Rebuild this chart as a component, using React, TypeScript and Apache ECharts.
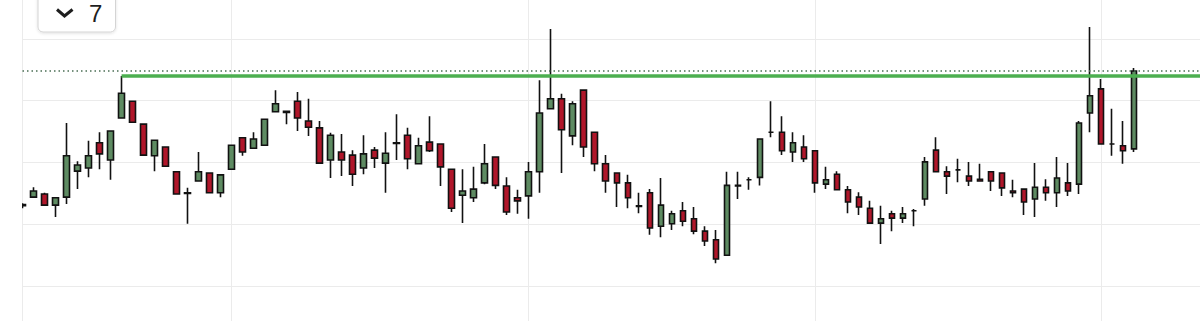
import React, { useEffect, useRef } from "react";
import * as echarts from "echarts";

// Candle values (open / close / low / high)
const OPENS = [
  113.0, 114.4, 114.9, 113.1, 114.4, 118.6, 119.1, 123.2, 120.4, 127.2,
  129.9, 126.2, 121.1, 122.5, 118.5, 115.1, 117.0, 118.3, 115.1, 118.9,
  124.0, 122.3, 122.8, 128.2, 128.3, 129.9, 126.7, 125.6, 120.4, 121.7,
  121.2, 119.1, 122.0, 119.9, 123.2, 124.4, 119.8, 123.3, 123.0, 118.9,
  114.7, 114.3, 116.7, 120.9, 116.2, 114.3, 114.6, 118.5, 128.7, 130.3,
  124.3, 131.7, 124.9, 119.8, 118.3, 116.7, 113.0, 115.1, 109.7, 110.1,
  112.2, 110.9, 108.9, 107.5, 105.0, 116.2, 117.2, 117.6, 124.9, 124.9,
  121.7, 122.5, 121.9, 116.5, 118.1, 115.6, 114.4, 112.6, 110.2, 111.7,
  111.0, 112.2, 114.1, 122.0, 118.5, 118.8, 117.8, 117.3, 118.5, 118.3,
  115.4, 115.7, 114.1, 116.0, 115.1, 116.7, 116.5, 128.0, 131.9, 123.0,
  122.7, 122.2,
];
const CLOSES = [
  113.2, 115.4, 113.1, 114.3, 121.1, 119.6, 121.1, 121.4, 125.1, 131.2,
  126.5, 121.2, 123.6, 119.4, 114.9, 115.0, 118.5, 115.1, 118.0, 122.8,
  121.7, 123.8, 127.0, 129.5, 128.1, 127.2, 125.7, 119.9, 124.4, 120.4,
  118.1, 121.4, 120.7, 121.5, 123.1, 120.6, 122.7, 121.9, 119.3, 112.6,
  115.4, 115.7, 119.8, 116.3, 112.0, 113.8, 118.5, 128.0, 130.3, 125.3,
  129.5, 122.5, 119.8, 117.0, 116.7, 114.3, 112.9, 109.4, 113.1, 111.7,
  110.5, 108.9, 107.3, 104.4, 116.3, 116.3, 117.2, 123.8, 124.9, 121.9,
  123.2, 120.6, 116.7, 117.2, 115.6, 113.6, 112.8, 110.2, 110.9, 111.0,
  111.7, 112.2, 120.1, 118.5, 117.8, 118.8, 117.0, 117.0, 117.0, 115.9,
  115.1, 113.6, 116.0, 115.1, 117.5, 115.4, 126.4, 130.8, 123.0, 123.0,
  121.9, 134.8,
];
const LOWS = [
  112.6, 114.4, 113.1, 111.2, 113.3, 115.7, 117.6, 118.9, 117.2, 127.2,
  126.5, 121.2, 118.6, 119.4, 114.9, 110.1, 117.0, 115.1, 114.4, 118.9,
  121.1, 122.3, 122.8, 128.2, 126.2, 125.1, 124.3, 119.8, 117.5, 117.8,
  116.2, 118.1, 119.1, 115.1, 120.4, 118.9, 119.8, 121.7, 116.2, 112.0,
  110.2, 113.6, 116.5, 115.7, 111.5, 111.7, 110.9, 115.1, 128.7, 118.3,
  122.8, 120.9, 118.6, 115.1, 112.8, 112.6, 111.8, 108.3, 107.9, 109.1,
  109.7, 108.4, 106.5, 103.7, 105.0, 114.1, 115.6, 116.3, 124.1, 121.2,
  120.1, 120.1, 115.1, 115.7, 115.6, 111.8, 111.5, 110.2, 106.8, 108.9,
  110.2, 109.7, 113.0, 118.5, 114.9, 116.8, 116.2, 117.0, 115.4, 114.6,
  114.4, 111.5, 111.2, 113.8, 112.8, 114.6, 114.9, 124.9, 123.0, 121.1,
  119.8, 121.7,
];
const HIGHS = [
  113.4, 116.0, 115.1, 114.3, 126.4, 120.2, 123.5, 124.9, 125.1, 134.0,
  129.9, 126.2, 123.6, 122.5, 118.5, 115.9, 121.7, 118.3, 118.0, 122.8,
  124.0, 124.9, 127.0, 131.7, 128.3, 131.4, 130.3, 126.7, 124.8, 124.6,
  122.0, 124.4, 122.5, 124.9, 127.8, 125.6, 124.0, 127.5, 123.0, 118.9,
  118.9, 119.3, 123.0, 120.9, 117.6, 115.6, 120.1, 133.3, 141.6, 131.1,
  129.9, 131.7, 124.9, 121.2, 118.3, 118.0, 115.1, 115.7, 117.5, 112.2,
  113.6, 112.8, 109.7, 109.1, 118.5, 118.5, 117.6, 123.8, 129.9, 127.5,
  124.9, 124.4, 121.9, 119.3, 118.6, 116.2, 115.2, 113.8, 113.0, 112.2,
  112.8, 112.5, 120.9, 124.1, 119.4, 120.6, 120.1, 119.8, 118.5, 118.3,
  117.2, 115.7, 119.9, 117.3, 120.9, 119.9, 126.7, 141.9, 133.5, 128.7,
  126.7, 135.3,
];

// 102 trading sessions plus empty slots to the right edge
const SLOT_COUNT = 108;
const CATEGORIES = Array.from({ length: SLOT_COUNT }, (_, i) => `D${i + 1}`);
const VERTICAL_GRID_INDEX = [0, 19, 46, 72, 98];

const RESISTANCE_START = 9; // candle whose high starts the green level
const RESISTANCE_LEVEL = 134.0;
const LAST_PRICE = 134.8;
const PERIOD_LABEL = "7";

// the chart canvas is taller than the window; the window shows a slice of it
const OFFSET = 60;

export default function App() {
  const ref = useRef<HTMLDivElement>(null);

  useEffect(() => {
    if (!ref.current) return;
    document.body.style.margin = "0";
    document.body.style.overflow = "hidden";
    const chart = echarts.init(ref.current, null, { renderer: "svg" });
    const data = OPENS.map((o, i) => [o, CLOSES[i], LOWS[i], HIGHS[i]]);

    chart.setOption({
      animation: false,
      backgroundColor: "#ffffff",
      grid: { left: 22.5, top: OFFSET - 23, width: 1180, height: 371 },
      xAxis: {
        type: "category",
        data: CATEGORIES,
        boundaryGap: false,
        axisLine: { show: false },
        axisTick: { show: false },
        axisLabel: { show: false },
        splitLine: {
          show: true,
          interval: (idx: number) => VERTICAL_GRID_INDEX.includes(idx),
          lineStyle: { color: "#ebebeb", width: 1 },
        },
      },
      yAxis: {
        type: "value",
        min: 90,
        max: 150,
        interval: 10,
        axisLine: { show: false },
        axisTick: { show: false },
        axisLabel: { show: false },
        splitLine: { show: true, lineStyle: { color: "#ebebeb", width: 1 } },
      },
      series: [
        {
          type: "candlestick",
          data,
          barWidth: 6,
          clip: true,
          itemStyle: {
            color: "#5e8b62",
            color0: "#b0162a",
            borderColor: "#111111",
            borderColor0: "#111111",
            borderColorDoji: "#111111",
            borderWidth: 1.6,
          },
          markLine: {
            silent: true,
            symbol: ["none", "none"],
            label: { show: false },
            animation: false,
            emphasis: { disabled: true },
            data: [
              {
                yAxis: LAST_PRICE,
                lineStyle: {
                  type: [1.5, 3],
                  color: "#4a6e54",
                  width: 1.5,
                  opacity: 1,
                },
              },
              [
                {
                  coord: [CATEGORIES[RESISTANCE_START], RESISTANCE_LEVEL],
                  lineStyle: {
                    type: "solid",
                    color: "#4caf50",
                    width: 3.5,
                    opacity: 1,
                  },
                },
                { coord: [CATEGORIES[SLOT_COUNT - 1], RESISTANCE_LEVEL] },
              ],
            ],
          },
        },
      ],
      graphic: [
        {
          // mask: the first candle is cut at the plot's left edge
          type: "rect",
          shape: { x: 0, y: 0, width: 22, height: 460 },
          style: { fill: "#ffffff" },
          silent: true,
          z: 5,
        },
        {
          type: "rect",
          shape: { x: 38, y: OFFSET - 10, width: 77.5, height: 42, r: 5 },
          style: {
            fill: "#ffffff",
            stroke: "#d4d4d4",
            lineWidth: 1,
            shadowBlur: 3,
            shadowOffsetY: 1,
            shadowColor: "rgba(0,0,0,0.12)",
          },
          z: 10,
        },
        {
          type: "polyline",
          shape: {
            points: [
              [57, OFFSET + 9.5],
              [64.5, OFFSET + 16],
              [72.5, OFFSET + 9.5],
            ],
          },
          style: { stroke: "#1e1e1e", lineWidth: 3, fill: "none" },
          z: 11,
        },
        {
          type: "text",
          x: 89,
          y: OFFSET + 13.8,
          style: {
            text: PERIOD_LABEL,
            fill: "#1e1e1e",
            fontSize: 24,
            fontFamily: "Liberation Sans, Arial, sans-serif",
            verticalAlign: "middle",
            align: "left",
          },
          z: 11,
        },
      ],
    });

    return () => chart.dispose();
  }, []);

  return (
    <div
      ref={ref}
      style={{
        position: "fixed",
        left: 0,
        top: -OFFSET,
        width: 1200,
        height: 460,
      }}
    />
  );
}
